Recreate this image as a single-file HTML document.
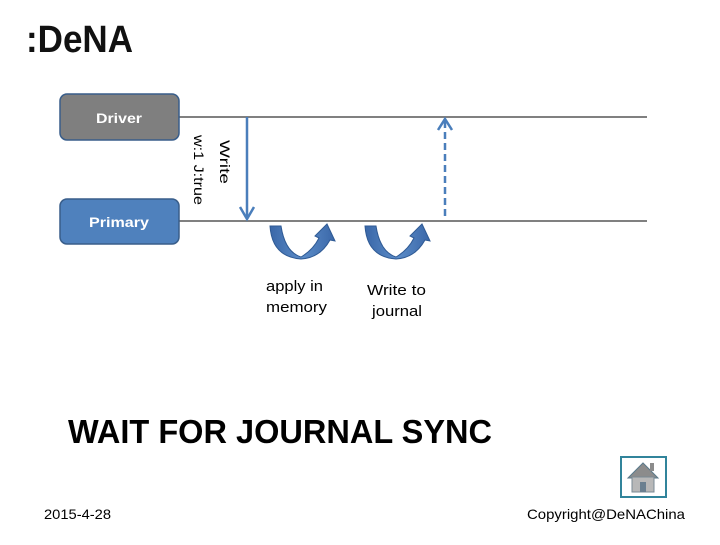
<!DOCTYPE html>
<html><head><style>
body{margin:0;width:720px;height:540px;background:#fff;overflow:hidden;font-family:"Liberation Sans","DejaVu Sans",sans-serif}
</style></head><body>
<svg width="720" height="540" xmlns="http://www.w3.org/2000/svg">
<defs>
<linearGradient id="g" x1="0" y1="0" x2="1" y2="0"><stop offset="0" stop-color="#3a67a8"/><stop offset="0.5" stop-color="#5b8cc8"/><stop offset="1" stop-color="#3a67a8"/></linearGradient>
</defs>
<text x="26" y="52" font-family="Liberation Sans, sans-serif" font-weight="bold" font-size="38" fill="#111" textLength="107" lengthAdjust="spacingAndGlyphs">:DeNA</text>
<line x1="179" y1="117" x2="647" y2="117" stroke="#808080" stroke-width="2"/>
<line x1="179" y1="221" x2="647" y2="221" stroke="#808080" stroke-width="2"/>
<rect x="60" y="94" width="119" height="46" rx="7" fill="#7f7f7f" stroke="#385d8a" stroke-width="1.5"/>
<text x="119" y="123" text-anchor="middle" font-size="14" font-weight="bold" fill="#fff" textLength="46" lengthAdjust="spacingAndGlyphs">Driver</text>
<rect x="60" y="199" width="119" height="45" rx="7" fill="#4f81bd" stroke="#385d8a" stroke-width="1.5"/>
<text x="119" y="227" text-anchor="middle" font-size="14" font-weight="bold" fill="#fff" textLength="60" lengthAdjust="spacingAndGlyphs">Primary</text>
<line x1="247" y1="117" x2="247" y2="218" stroke="#4a7ebb" stroke-width="2.5"/>
<polyline points="240,207 247,219 254,207" fill="none" stroke="#4a7ebb" stroke-width="2.5"/>
<line x1="445" y1="216" x2="445" y2="120" stroke="#4a7ebb" stroke-width="2.5" stroke-dasharray="7,4"/>
<polyline points="438,130 445,119 452,130" fill="none" stroke="#4a7ebb" stroke-width="2.5"/>
<text transform="translate(220,140) rotate(90)" font-size="14" fill="#000" textLength="44" lengthAdjust="spacingAndGlyphs">Write</text>
<text transform="translate(194,135) rotate(90)" font-size="14" fill="#000" textLength="70" lengthAdjust="spacingAndGlyphs">w:1 J:true</text>
<path d="M270,226 L281,226 Q285,252 301,257 Q313,250 319,238 L315,236 L327,224 L335,241 L330,240 Q320,258 301,259 Q272,257 270,226 Z" fill="url(#g)" stroke="#2f5a94" stroke-width="1"/>
<path d="M365,226 L376,226 Q380,252 396,257 Q408,250 414,238 L410,236 L422,224 L430,241 L425,240 Q415,258 396,259 Q367,257 365,226 Z" fill="url(#g)" stroke="#2f5a94" stroke-width="1"/>
<text x="266" y="291" font-size="15" fill="#000" textLength="57" lengthAdjust="spacingAndGlyphs">apply in</text>
<text x="266" y="312" font-size="15" fill="#000" textLength="61" lengthAdjust="spacingAndGlyphs">memory</text>
<text x="367" y="295" font-size="15" fill="#000" textLength="59" lengthAdjust="spacingAndGlyphs">Write to</text>
<text x="372" y="316" font-size="15" fill="#000" textLength="50" lengthAdjust="spacingAndGlyphs">journal</text>
<text x="68" y="443" font-size="33" font-weight="bold" fill="#000" textLength="424" lengthAdjust="spacingAndGlyphs">WAIT FOR JOURNAL SYNC</text>
<text x="44" y="519" font-size="14" fill="#000" textLength="67" lengthAdjust="spacingAndGlyphs">2015-4-28</text>
<text x="527" y="519" font-size="14" fill="#000" textLength="158" lengthAdjust="spacingAndGlyphs">Copyright@DeNAChina</text>
<rect x="621" y="457" width="45" height="40" fill="#fff" stroke="#31849b" stroke-width="2"/>
<polygon points="628,478 643,463 658,478" fill="#8c8c8c" stroke="#5a7a8a"/>
<rect x="632" y="477" width="22" height="15" fill="#b8b8b8" stroke="#7a8a95"/>
<rect x="640" y="482" width="6" height="10" fill="#6a7f90"/>
<rect x="650" y="463" width="4" height="8" fill="#8c8c8c"/>
</svg>
</body></html>
